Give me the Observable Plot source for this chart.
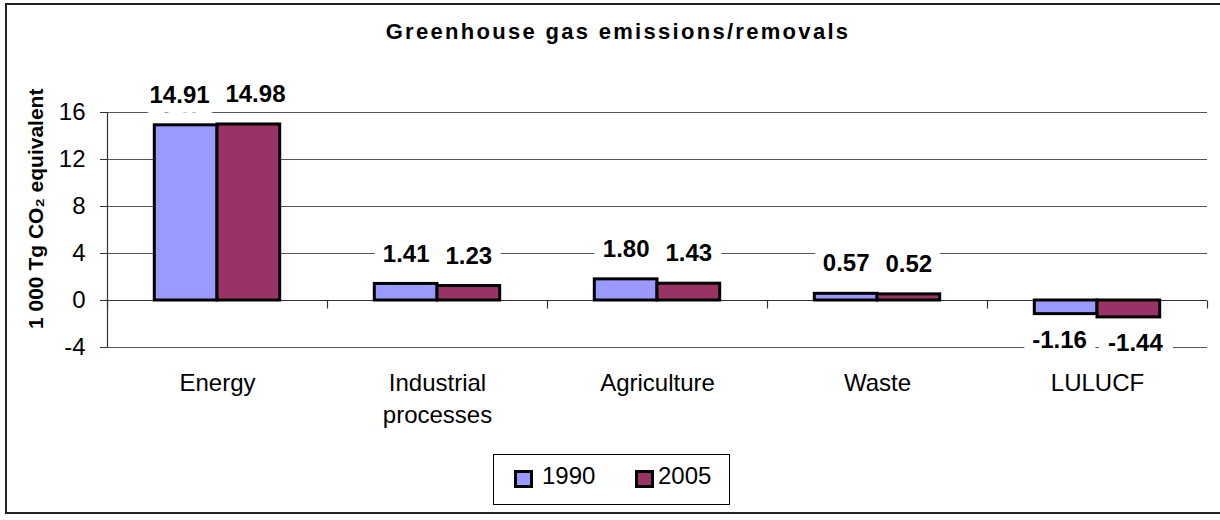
<!DOCTYPE html>
<html>
<head>
<meta charset="utf-8">
<script src="https://cdn.jsdelivr.net/npm/d3@7"></script>
<script src="https://cdn.jsdelivr.net/npm/@observablehq/plot@0.6"></script>
<style>
  html, body { margin: 0; padding: 0; background: #fff; }
  #wrap { position: relative; width: 1220px; height: 520px; overflow: hidden; font-family: "Liberation Sans", Arial, sans-serif; }
  #frame { position: absolute; left: 5px; top: 3px; width: 1230px; height: 511px; border: 2px solid #222; box-sizing: border-box; }
  #title { position: absolute; left: 8px; top: 21px; width: 1220px; text-align: center; font-weight: bold; font-size: 22px; line-height: 22px; letter-spacing: 2.3px; }
  #ylabel { position: absolute; left: 0; top: 0; transform: translate(25px, 329px) rotate(-90deg); transform-origin: 0 0; white-space: nowrap; font-weight: bold; font-size: 21px; line-height: 21px; }
  #chart { position: absolute; left: 0; top: 0; }
  #legend { position: absolute; left: 493px; top: 454px; width: 237px; height: 51px; border: 1px solid #000; box-sizing: border-box; background: #fff; font-size: 24px; }
  .sw { position: absolute; top: 15px; width: 19px; height: 18px; border: 3px solid #000; box-sizing: border-box; }
  .lt { position: absolute; top: 9px; line-height: 24px; }
</style>
</head>
<body>
<div id="wrap">
  <div id="frame"></div>
  <div id="chart"></div>
  <div id="title"></div>
  <div id="ylabel"></div>
  <div id="legend"></div>
</div>
<script>
const title = "Greenhouse gas emissions/removals";
const yLabel = "1 000 Tg CO₂ equivalent";
const categories = ["Energy", "Industrial\nprocesses", "Agriculture", "Waste", "LULUCF"];
const years = ["1990", "2005"];
const values1990 = [14.91, 1.41, 1.80, 0.57, -1.16];
const values2005 = [14.98, 1.23, 1.43, 0.52, -1.44];
const yTicks = [-4, 0, 4, 8, 12, 16];
const colors = ["#9999FF", "#993366"];

const gap = 0.215; // Excel-like gap on each side of a group (fraction of category width)
const rows = [];
categories.forEach((c, i) => {
  [values1990, values2005].forEach((vals, j) => {
    rows.push({
      cat: c, i, j, year: years[j], value: vals[i],
      x1: i + gap + j * (0.5 - gap),
      x2: i + 0.5 + j * (0.5 - gap)
    });
  });
});

// labels that are wider than their bar get pushed apart a little (like Excel does)
const labelX = d => (d.x1 + d.x2) / 2 + (d.value.toFixed(2).length > 4 ? (d.j ? 0.03 : -0.03) : 0);

const tickDown = { draw(ctx) { ctx.moveTo(0, 0); ctx.lineTo(0, 8); } };
const font = '"Liberation Sans", Arial, sans-serif';
const pos = rows.filter(d => d.value >= 0);
const neg = rows.filter(d => d.value < 0);
const labelOpts = (extra) => Object.assign({
  x: labelX, y: "value", text: d => d.value.toFixed(2),
  fontSize: 24, fontWeight: "bold"
}, extra);

const plot = Plot.plot({
  width: 1220,
  height: 520,
  marginTop: 112,
  marginBottom: 173,
  marginLeft: 107,
  marginRight: 13,
  style: { fontFamily: font, background: "transparent", color: "#000" },
  x: { domain: [0, categories.length], axis: null },
  y: { domain: [-4, 16] },
  color: { domain: years, range: colors },
  marks: [
    Plot.ruleY(yTicks.filter(d => d !== 0), { stroke: "#555", strokeWidth: 1 }),
    Plot.ruleY([0], { stroke: "#333", strokeWidth: 1.2 }),
    Plot.ruleX([0], { y1: -4, y2: 16, stroke: "#333", strokeWidth: 1.2 }),
    Plot.axisY({ ticks: yTicks, tickFormat: d => String(d), tickSize: 7, tickPadding: 15, fontSize: 24, label: null, stroke: "#333" }),
    Plot.dot(d3.range(categories.length + 1), { x: d => d, y: () => 0, symbol: tickDown, stroke: "#333", strokeWidth: 1.2, fill: "none" }),
    Plot.rect(rows, { x1: "x1", x2: "x2", y1: () => 0, y2: "value", fill: "year", stroke: "#000", strokeWidth: 3 }),
    // white label backgrounds first
    Plot.text(pos, labelOpts({ dy: -30, fill: "#fff", stroke: "#fff", strokeWidth: 20, strokeLinejoin: "round" })),
    Plot.text(neg, labelOpts({ dy: 26, fill: "#fff", stroke: "#fff", strokeWidth: 20, strokeLinejoin: "round" })),
    // then the labels
    Plot.text(pos, labelOpts({ dy: -30, fill: "#000" })),
    Plot.text(neg, labelOpts({ dy: 26, fill: "#000" })),
    Plot.text(categories, {
      x: (d, i) => i + 0.5, y: () => -4, text: d => d, dy: 21, lineAnchor: "top", lineHeight: 1.33,
      fontSize: 24, fill: "#000"
    })
  ]
});
document.getElementById("chart").appendChild(plot);
document.getElementById("title").textContent = title;
document.getElementById("ylabel").textContent = yLabel;

const legend = document.getElementById("legend");
const legendPos = [[20, 48], [141, 164]];
years.forEach((y, k) => {
  const sw = document.createElement("div");
  sw.className = "sw";
  sw.style.left = legendPos[k][0] + "px";
  sw.style.background = colors[k];
  legend.appendChild(sw);
  const t = document.createElement("div");
  t.className = "lt";
  t.style.left = legendPos[k][1] + "px";
  t.textContent = y;
  legend.appendChild(t);
});
</script>
</body>
</html>
